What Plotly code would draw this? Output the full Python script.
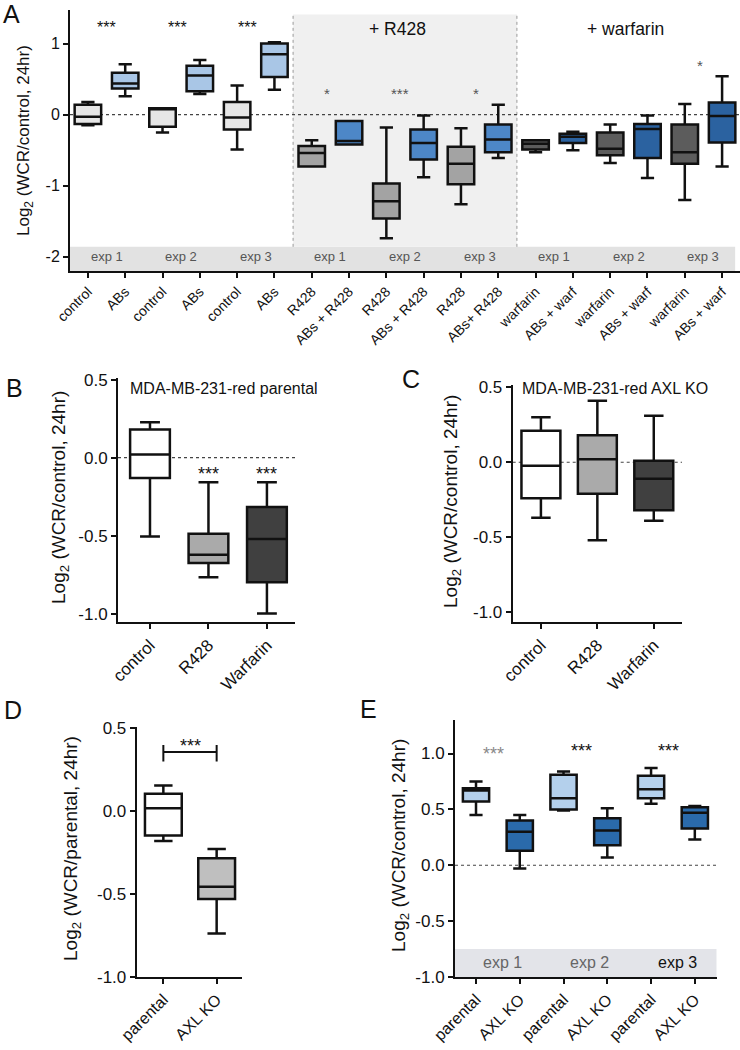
import plotly.graph_objects as go

FONT = "Arial, 'Liberation Sans', sans-serif"
W, H = 740, 1050

# ---------------- Panel A data ----------------
A_labels = ["control", "ABs", "control", "ABs", "control", "ABs",
            "R428", "ABs + R428", "R428", "ABs + R428", "R428", "ABs+ R428",
            "warfarin", "ABs + warf", "warfarin", "ABs + warf", "warfarin", "ABs + warf"]
A_groups = ["ctrl", "abs"] * 3 + ["r428", "absr428"] * 3 + ["warf", "abswarf"] * 3
A_upper = [0.18, 0.71, 0.09, 0.77, 0.41, 1.02, -0.36, -0.09, -0.18, -0.01, -0.19, 0.14,
           -0.36, -0.24, -0.14, -0.01, 0.15, 0.54]
A_q3 = [0.14, 0.59, 0.09, 0.69, 0.18, 1.00, -0.44, -0.09, -0.97, -0.21, -0.45, -0.14,
        -0.36, -0.27, -0.25, -0.13, -0.14, 0.17]
A_median = [-0.03, 0.44, 0.08, 0.55, -0.04, 0.85, -0.54, -0.37, -1.22, -0.40, -0.69, -0.35,
            -0.41, -0.31, -0.48, -0.20, -0.53, -0.02]
A_q1 = [-0.13, 0.37, -0.17, 0.33, -0.21, 0.53, -0.73, -0.42, -1.46, -0.63, -0.98, -0.53,
        -0.49, -0.40, -0.57, -0.61, -0.69, -0.39]
A_lower = [-0.15, 0.26, -0.25, 0.29, -0.49, 0.35, -0.73, -0.42, -1.74, -0.88, -1.26, -0.61,
           -0.53, -0.50, -0.68, -0.89, -1.20, -0.73]
A_exp_labels = ["exp 1", "exp 2", "exp 3"] * 3
A_stars = ["***", "***", "***", "*", "***", "*", "*"]
A_star_x = [0.5, 2.39, 4.29, 6.4, 8.37, 10.4, 16.4]
A_star_y = [1.225, 1.225, 1.225, 0.30, 0.30, 0.30, 0.69]
A_star_col = ["#111111"] * 3 + ["#555555"] * 4
A_sections = ["+ R428", "+ warfarin"]

# ---------------- Panel B data ----------------
B_labels = ["control", "R428", "Warfarin"]
B_upper = [0.226, -0.158, -0.158]
B_q3 = [0.18, -0.487, -0.316]
B_median = [0.02, -0.622, -0.521]
B_q1 = [-0.13, -0.675, -0.797]
B_lower = [-0.505, -0.765, -0.998]
B_stars = ["", "***", "***"]

# ---------------- Panel C data ----------------
C_labels = ["control", "R428", "Warfarin"]
C_upper = [0.30, 0.41, 0.31]
C_q3 = [0.21, 0.18, 0.01]
C_median = [-0.023, 0.02, -0.11]
C_q1 = [-0.24, -0.21, -0.32]
C_lower = [-0.37, -0.52, -0.39]

# ---------------- Panel D data ----------------
D_labels = ["parental", "AXL KO"]
D_upper = [0.156, -0.228]
D_q3 = [0.105, -0.283]
D_median = [0.018, -0.456]
D_q1 = [-0.147, -0.53]
D_lower = [-0.18, -0.737]

# ---------------- Panel E data ----------------
E_labels = ["parental", "AXL KO"] * 3
E_upper = [0.75, 0.45, 0.84, 0.51, 0.87, 0.53]
E_q3 = [0.69, 0.40, 0.81, 0.42, 0.80, 0.52]
E_median = [0.67, 0.30, 0.60, 0.31, 0.68, 0.47]
E_q1 = [0.57, 0.13, 0.50, 0.18, 0.60, 0.33]
E_lower = [0.45, -0.03, 0.49, 0.07, 0.55, 0.23]
E_exp_labels = ["exp 1", "exp 2", "exp 3"]
E_exp_col = ["#666666", "#666666", "#111111"]
E_star_col = ["#888888", "#111111", "#111111"]

COL = {"ctrl": "#e6e6e6", "abs": "#a9c6e6", "r428": "#a3a3a3", "absr428": "#4d87c7",
       "warf": "#5c5c5c", "abswarf": "#2b62a0"}
B_cols = ["#ffffff", "#aaaaaa", "#404040"]
D_cols = ["#ffffff", "#bfbfbf"]
E_cols = ["#b4d0ec", "#2a6aab"] * 3

fig = go.Figure()


def add_boxes(xa, ya, up, q3, med, q1, lo, cols, width):
    for i in range(len(med)):
        fig.add_trace(go.Box(
            x=[i], q1=[q1[i]], median=[med[i]], q3=[q3[i]],
            lowerfence=[lo[i]], upperfence=[up[i]],
            fillcolor=cols[i], line=dict(color="#111111", width=2.5),
            width=width, whiskerwidth=0.5, boxpoints=False,
            xaxis=xa, yaxis=ya, showlegend=False, hoverinfo="skip"))


add_boxes("x", "y", A_upper, A_q3, A_median, A_q1, A_lower, [COL[g] for g in A_groups], 0.71)
add_boxes("x2", "y2", B_upper, B_q3, B_median, B_q1, B_lower, B_cols, 0.68)
add_boxes("x3", "y3", C_upper, C_q3, C_median, C_q1, C_lower, B_cols, 0.69)
add_boxes("x4", "y4", D_upper, D_q3, D_median, D_q1, D_lower, D_cols, 0.69)
add_boxes("x5", "y5", E_upper, E_q3, E_median, E_q1, E_lower, E_cols, 0.60)


def fx(px):
    return px / W


def fy(px):
    return 1 - px / H


def px_x(a, b):
    return [fx(a), fx(b)]


def px_y(top, bottom):
    return [fy(bottom), fy(top)]


def xax(dom, rng, labels, fs, anchor):
    return dict(domain=dom, range=rng, anchor=anchor, showline=True, linewidth=2,
                linecolor="#111111", ticks="outside", ticklen=5, tickwidth=2,
                tickcolor="#111111", showgrid=False, zeroline=False, automargin=False,
                tickmode="array", tickvals=list(range(len(labels))), ticktext=labels,
                tickangle=-45, tickfont=dict(family=FONT, size=fs, color="#111111"))


def yax(dom, rng, vals, texts, fs, anchor):
    return dict(domain=dom, range=rng, anchor=anchor, showline=True, linewidth=2,
                linecolor="#111111", ticks="outside", ticklen=5, tickwidth=2,
                tickcolor="#111111", showgrid=False, zeroline=False, automargin=False,
                tickmode="array", tickvals=vals, ticktext=texts,
                tickfont=dict(family=FONT, size=fs, color="#111111"))


yv = [-1.0, -0.5, 0.0, 0.5]
yt = ["-1.0", "-0.5", "0.0", "0.5"]

layout = dict(
    width=W, height=H, margin=dict(l=0, r=0, t=0, b=0, autoexpand=False),
    paper_bgcolor="white", plot_bgcolor="white", boxmode="overlay",
    showlegend=False,
    xaxis=xax(px_x(70, 740), [-0.48, 17.48], A_labels, 14, "y"),
    yaxis=yax(px_y(9.5, 271), [-2.2, 1.48], [-2, -1, 0, 1], ["-2", "-1", "0", "1"], 16, "x"),
    xaxis2=xax(px_x(118, 295), [-0.547, 2.48], B_labels, 17, "y2"),
    yaxis2=yax(px_y(378, 621.7), [-1.05, 0.51], yv, yt, 17, "x2"),
    xaxis3=xax(px_x(512.7, 682), [-0.5, 2.5], C_labels, 17, "y3"),
    yaxis3=yax(px_y(385, 621.7), [-1.063, 0.515], yv, yt, 17, "x3"),
    xaxis4=xax(px_x(136.7, 241.7), [-0.5, 1.47], D_labels, 16, "y4"),
    yaxis4=yax(px_y(726.7, 977), [-1.0, 0.51], yv, yt, 17, "x4"),
    xaxis5=xax(px_x(455, 716.7), [-0.48, 5.5], E_labels, 16, "y5"),
    yaxis5=yax(px_y(720, 977), [-1.0, 1.30], yv + [1.0], yt + ["1.0"], 17, "x5"),
)
fig.update_layout(**layout)

shapes = []
# Panel A background regions
shapes.append(dict(type="rect", xref="x", yref="y", x0=-0.48, x1=17.35, y0=-2.2, y1=-1.86,
                   fillcolor="#e2e2e2", line=dict(width=0), layer="below"))
shapes.append(dict(type="rect", xref="x", yref="y", x0=5.5, x1=11.5, y0=-1.86, y1=1.41,
                   fillcolor="#f0f0f0", line=dict(width=0), layer="below"))
for xv in (5.5, 11.5):
    shapes.append(dict(type="line", xref="x", yref="y", x0=xv, x1=xv, y0=-1.86, y1=1.41,
                       line=dict(color="#9a9a9a", width=1, dash="dot"), layer="below"))
# zero lines
for xr, yr, x0, x1 in [("x", "y", -0.48, 17.48), ("x2", "y2", -0.547, 2.48),
                       ("x3", "y3", -0.5, 2.5), ("x5", "y5", -0.48, 5.5)]:
    shapes.append(dict(type="line", xref=xr, yref=yr, x0=x0, x1=x1, y0=0, y1=0,
                       line=dict(color="#444444", width=1.2, dash="dot"), layer="below"))
# Panel E band
shapes.append(dict(type="rect", xref="x5", yref="y5", x0=-0.48, x1=5.5, y0=-1.0, y1=-0.75,
                   fillcolor="#e3e4e9", line=dict(width=0), layer="below"))
# Panel D significance bracket
shapes.append(dict(type="line", xref="x4", yref="y4", x0=0, x1=1, y0=0.357, y1=0.357,
                   line=dict(color="#111111", width=2)))
for xv in (0, 1):
    shapes.append(dict(type="line", xref="x4", yref="y4", x0=xv, x1=xv, y0=0.30, y1=0.40,
                       line=dict(color="#111111", width=2)))

ann = []


def text(x, y, s, size, xref="paper", yref="paper", color="#111111", angle=0,
         xanchor="center", yanchor="middle"):
    ann.append(dict(x=x, y=y, xref=xref, yref=yref, text=s, showarrow=False,
                    textangle=angle, xanchor=xanchor, yanchor=yanchor,
                    font=dict(family=FONT, size=size, color=color)))


# panel letters
for lab, xp, yp in [("A", 11, 14), ("B", 14, 388), ("C", 411, 379), ("D", 13, 710), ("E", 368, 709)]:
    text(fx(xp), fy(yp), lab, 25)

# y titles
text(fx(25), fy(141), "Log<sub>2</sub> (WCR/control, 24hr)", 17, angle=-90)
text(fx(60), fy(498), "Log<sub>2</sub> (WCR/control, 24hr)", 19, angle=-90)
text(fx(452), fy(502), "Log<sub>2</sub> (WCR/control, 24hr)", 19, angle=-90)
text(fx(72), fy(849), "Log<sub>2</sub> (WCR/parental, 24hr)", 19, angle=-90)
text(fx(400), fy(846), "Log<sub>2</sub> (WCR/control, 24hr)", 19, angle=-90)

# Panel A annotations
for k, s in enumerate(A_exp_labels):
    text(2 * k + 0.5, -2.0, s, 13, "x", "y", "#555555")
for s, xv, yv_, c in zip(A_stars, A_star_x, A_star_y, A_star_col):
    text(xv, yv_, s, 16 if c == "#111111" else 15, "x", "y", c)
text(8.31, 1.21, A_sections[0], 17.5, "x", "y")
text(14.4, 1.21, A_sections[1], 17.5, "x", "y")

# Panel B
text(-0.376, 0.442, "MDA-MB-231-red parental", 16, "x2", "y2", xanchor="left")
for i, s in enumerate(B_stars):
    if s:
        text(i, -0.107, s, 18, "x2", "y2")
# Panel C
text(-0.37, 0.495, "MDA-MB-231-red AXL KO", 16, "x3", "y3", xanchor="left")
# Panel D
text(0.5, 0.394, "***", 18, "x4", "y4")
# Panel E
for k in range(3):
    text(2 * k + 0.4, 1.0 if k == 0 else 1.027, "***", 18, "x5", "y5", E_star_col[k])
    text(2 * k + 0.6, -0.866, E_exp_labels[k], 16, "x5", "y5", E_exp_col[k])

fig.update_layout(shapes=shapes, annotations=ann)
fig.write_html("out.html", config={"displayModeBar": False},
               post_script="document.body.style.margin='0px';document.body.style.overflow='hidden';")
